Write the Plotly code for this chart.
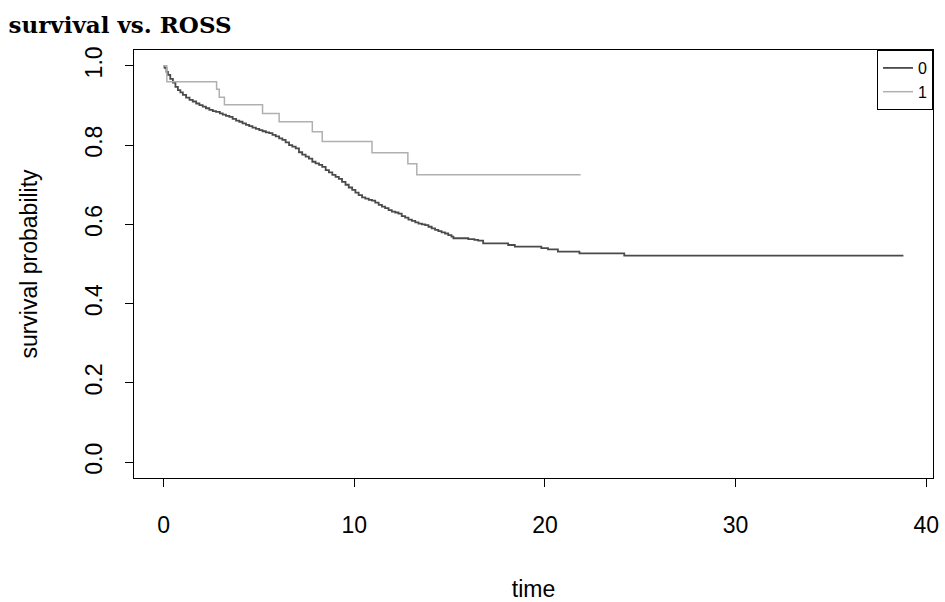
import plotly.graph_objects as go

# Group 0 (ROSS = 0) Kaplan-Meier estimate
t0 = [0, 0.05, 0.15, 0.23, 0.35, 0.49, 0.62, 0.75, 0.88, 1.01, 1.18, 1.36, 1.53, 1.71, 1.88,
      2.05, 2.22, 2.40, 2.58, 2.75, 2.95, 3.10, 3.27, 3.45, 3.62, 3.80, 3.97, 4.14, 4.32, 4.49,
      4.66, 4.84, 5.02, 5.19, 5.36, 5.54, 5.71, 5.88, 6.06, 6.23, 6.40, 6.58, 6.75, 6.93, 7.10,
      7.27, 7.45, 7.62, 7.80, 7.97, 8.15, 8.32, 8.50, 8.67, 8.85, 9.02, 9.19, 9.36, 9.54, 9.71,
      9.89, 10.06, 10.23, 10.41, 10.58, 10.76, 10.93, 11.10, 11.28, 11.45, 11.62, 11.80, 11.97,
      12.15, 12.32, 12.49, 12.67, 12.84, 13.02, 13.20, 13.37, 13.55, 13.72, 13.89, 14.06, 14.24,
      14.41, 14.58, 14.76, 14.93, 15.10, 15.20, 15.98, 16.30, 16.50, 16.76, 18.07, 18.42, 19.81,
      20.16, 20.68, 21.81, 24.16, 38.8]
s0 = [1.0, 0.995, 0.985, 0.977, 0.967, 0.958, 0.947, 0.939, 0.933, 0.927, 0.920, 0.914, 0.910,
      0.905, 0.901, 0.897, 0.893, 0.889, 0.886, 0.884, 0.880, 0.877, 0.874, 0.871, 0.866, 0.862,
      0.859, 0.855, 0.851, 0.848, 0.844, 0.841, 0.838, 0.835, 0.832, 0.830, 0.826, 0.822, 0.817,
      0.813, 0.807, 0.800, 0.796, 0.792, 0.782, 0.776, 0.771, 0.766, 0.758, 0.754, 0.750, 0.745,
      0.737, 0.731, 0.725, 0.720, 0.715, 0.707, 0.700, 0.693, 0.687, 0.680, 0.674, 0.668, 0.665,
      0.662, 0.660, 0.655, 0.649, 0.645, 0.641, 0.636, 0.632, 0.630, 0.627, 0.621, 0.617, 0.612,
      0.609, 0.605, 0.602, 0.600, 0.598, 0.594, 0.590, 0.586, 0.583, 0.580, 0.577, 0.573, 0.569,
      0.565, 0.563, 0.561, 0.559, 0.552, 0.548, 0.544, 0.540, 0.537, 0.531, 0.527, 0.521, 0.521]

# Group 1 (ROSS = 1)
t1 = [0, 0.17, 2.78, 2.92, 3.19, 5.19, 6.06, 7.80, 8.32, 10.93, 12.81, 13.28, 21.87]
s1 = [1.0, 0.960, 0.941, 0.921, 0.902, 0.880, 0.859, 0.834, 0.809, 0.781, 0.753, 0.725, 0.725]

group_names = ["0", "1"]
x_ticks = [0, 10, 20, 30, 40]
y_ticks = [0.0, 0.2, 0.4, 0.6, 0.8, 1.0]
y_tick_text = ["0.0", "0.2", "0.4", "0.6", "0.8", "1.0"]

fig = go.Figure()
fig.add_trace(go.Scatter(x=t0, y=s0, mode="lines", line_shape="hv", name=group_names[0],
                         line=dict(color="#4a4a4a", width=1.8)))
fig.add_trace(go.Scatter(x=t1, y=s1, mode="lines", line_shape="hv", name=group_names[1],
                         line=dict(color="#b0b0b0", width=1.5)))

tick_font = dict(family="Liberation Sans, Arial, sans-serif", size=23, color="black")
title_font = dict(family="Liberation Sans, Arial, sans-serif", size=23, color="black")

fig.update_layout(
    width=945, height=602,
    paper_bgcolor="white", plot_bgcolor="white",
    margin=dict(l=134, r=12, t=50, b=124, autoexpand=False),
    title=dict(text="<b>survival vs. ROSS</b>", x=0.009, xanchor="left", y=0.958, yanchor="middle",
               font=dict(family="DejaVu Serif, serif", size=23, color="black")),
    showlegend=True,
    legend=dict(x=1, y=1, xanchor="right", yanchor="top", bordercolor="black", borderwidth=1,
                bgcolor="white", font=dict(family="Liberation Sans, Arial, sans-serif", size=16, color="black"),
                itemwidth=30),
    xaxis=dict(range=[-1.552, 40.352], tickvals=x_ticks, ticks="outside", ticklen=8, tickcolor="black",
               showline=True, linecolor="black", linewidth=1.2, mirror=True, showgrid=False, zeroline=False,
               tickfont=tick_font, ticklabelstandoff=18, automargin=False,
               title=dict(text="time", font=title_font, standoff=44)),
    yaxis=dict(range=[-0.04, 1.04], tickvals=y_ticks, ticktext=y_tick_text, ticks="outside", ticklen=8,
               tickcolor="black", tickangle=-90, automargin=False,
               showline=True, linecolor="black", linewidth=1.2, mirror=True, showgrid=False, zeroline=False,
               tickfont=tick_font, ticklabelstandoff=14,
               title=dict(text="survival probability", font=title_font, standoff=36)),
)

fig.write_html("out.html")
